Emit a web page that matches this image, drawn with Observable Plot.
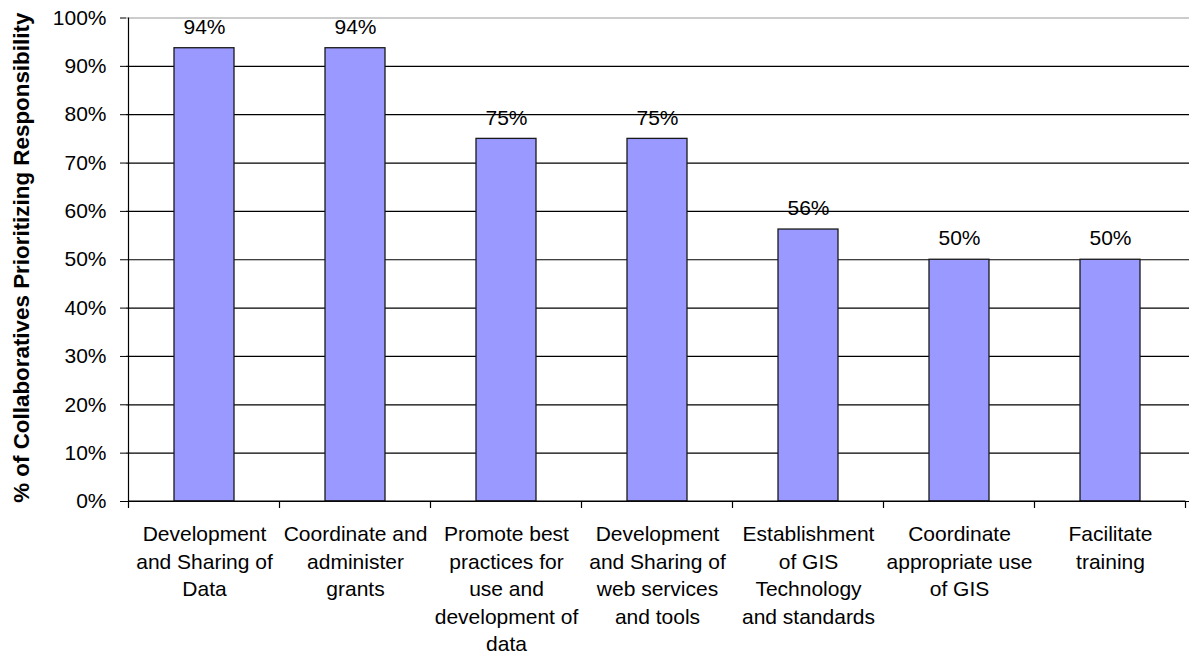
<!DOCTYPE html>
<html><head><meta charset="utf-8">
<script src="https://cdn.jsdelivr.net/npm/d3@7"></script>
<script src="https://cdn.jsdelivr.net/npm/@observablehq/plot@0.6"></script>
<style>html,body{margin:0;padding:0;background:#fff} svg{display:block}</style>
</head><body><div id="chart"></div>
<script>
const categories = [
  "Development and Sharing of Data",
  "Coordinate and administer grants",
  "Promote best practices for use and development of data",
  "Development and Sharing of web services and tools",
  "Establishment of GIS Technology and standards",
  "Coordinate appropriate use of GIS",
  "Facilitate training"
];
const tickLabels = [
  "Development\nand Sharing of\nData",
  "Coordinate and\nadminister\ngrants",
  "Promote best\npractices for\nuse and\ndevelopment of\ndata",
  "Development\nand Sharing of\nweb services\nand tools",
  "Establishment\nof GIS\nTechnology\nand standards",
  "Coordinate\nappropriate use\nof GIS",
  "Facilitate\ntraining"
];
const values = [0.9375, 0.9375, 0.75, 0.75, 0.5625, 0.5, 0.5];
const yTicks = [0, 0.1, 0.2, 0.3, 0.4, 0.5, 0.6, 0.7, 0.8, 0.9, 1];
const yTitle = "% of Collaboratives Prioritizing Responsibility";

const data = categories.map((c, i) => ({category: c, label: tickLabels[i], value: values[i]}));
const pct = v => Math.round(v * 100) + "%";

const plot = Plot.plot({
  width: 1189, height: 654,
  marginLeft: 126, marginRight: 0, marginTop: 17.5, marginBottom: 153,
  style: {fontFamily: "'Liberation Sans', Arial, sans-serif", fontSize: "21px", color: "#000", background: "#fff"},
  x: {domain: categories, paddingInner: 0.6, paddingOuter: 0.3, axis: null},
  y: {domain: [0, 1], axis: null},
  marks: [
    Plot.gridY(yTicks.filter(t => t < 1), {stroke: "#000", strokeOpacity: 1, strokeWidth: 1.2}),
    Plot.ruleY([1], {stroke: "#999", strokeWidth: 1.2}),
    Plot.barY(data, {x: "category", y: "value", fill: "#9999ff", stroke: "#1a1a1a", strokeWidth: 1.3}),
    Plot.axisY(yTicks, {label: null, tickFormat: pct, tickSize: 6, tickPadding: 14, stroke: "#000", fontSize: 21, fill: "#000"}),
    Plot.text(data, {x: "category", y: "value", text: d => pct(d.value), dy: -21, fontSize: 21, fill: "#000"}),
    Plot.text(data, {x: "category", y: 0, text: "label", lineAnchor: "top", lineHeight: 1.31, dy: 20, fontSize: 21, fill: "#000"}),
    Plot.text([yTitle], {frameAnchor: "left", textAnchor: "middle", rotate: -90, dx: -105, dy: -2, fontWeight: "bold", fontSize: 22.4, fill: "#000"})
  ]
});

// axis lines and category-boundary ticks from the plot's own scales
const xs = plot.scale("x"), ys = plot.scale("y");
const half = (xs.step - xs.bandwidth) / 2;
const bounds = categories.map(c => xs.apply(c) - half);
bounds.push(bounds[bounds.length - 1] + xs.step);
const y0 = ys.apply(0), y1 = ys.apply(1);
const g = d3.select(plot).append("g").attr("stroke", "#000").attr("stroke-width", 1.2);
g.append("line").attr("x1", bounds[0]).attr("x2", bounds[0]).attr("y1", y1).attr("y2", y0);
g.append("line").attr("x1", bounds[0]).attr("x2", bounds[bounds.length - 1]).attr("y1", y0).attr("y2", y0);
g.selectAll(".t").data(bounds).join("line")
  .attr("x1", d => d).attr("x2", d => d).attr("y1", y0).attr("y2", y0 + 7);

document.getElementById("chart").append(plot);
</script>
</body></html>
